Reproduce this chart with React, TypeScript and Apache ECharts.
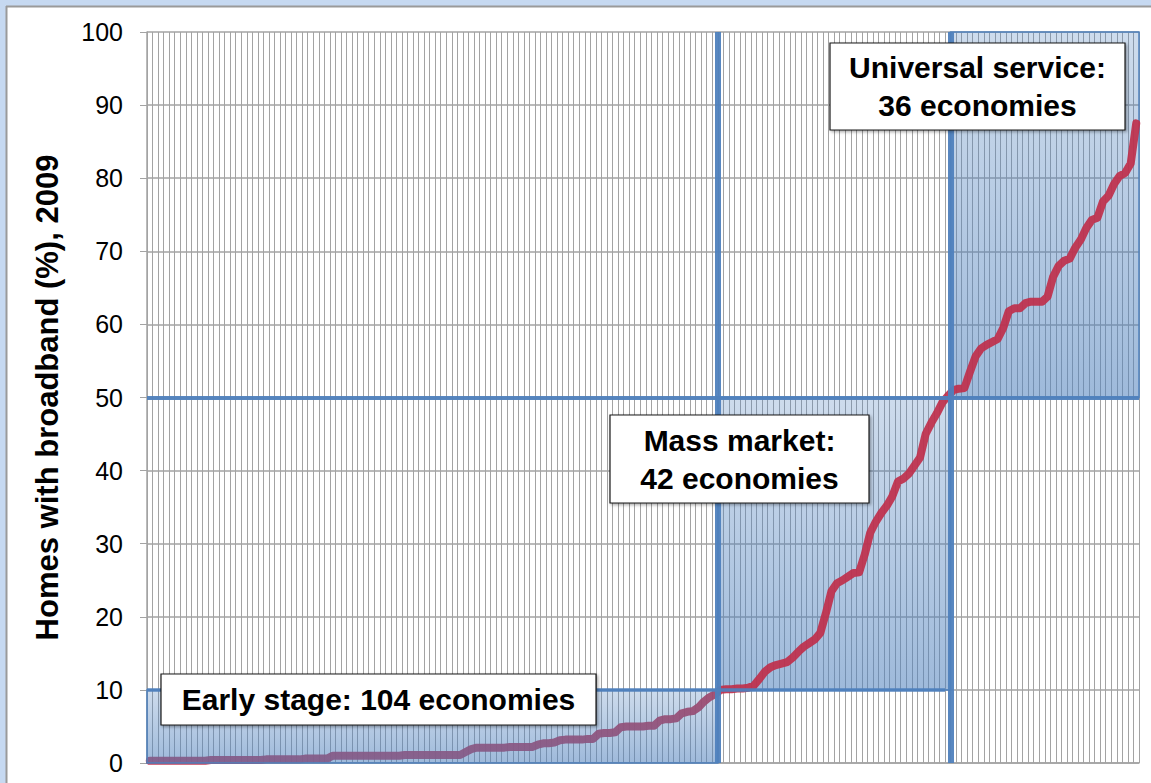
import React, { useEffect, useRef } from "react";
import * as echarts from "echarts";

// Homes with broadband (%), 2009 — economies ranked from lowest to highest
const earlyStage = [
  0.3, 0.3, 0.3, 0.3, 0.3, 0.3, 0.3, 0.3, 0.3, 0.3, 0.3,
  0.4, 0.4, 0.4, 0.4, 0.4, 0.4, 0.4, 0.4, 0.4, 0.4,
  0.5, 0.5, 0.5, 0.5, 0.5, 0.5, 0.5,
  0.6, 0.6, 0.6, 0.6, 0.6,
  1.0, 1.0, 1.0, 1.0, 1.0, 1.0, 1.0, 1.0, 1.0, 1.0, 1.0, 1.0, 1.0,
  1.1, 1.1, 1.1, 1.1, 1.1, 1.1, 1.1, 1.1, 1.1, 1.1, 1.1,
  1.5, 1.9, 2.1,
  2.1, 2.1, 2.1, 2.1, 2.1, 2.2, 2.2, 2.2, 2.2, 2.2,
  2.5, 2.7, 2.7, 2.8,
  3.1, 3.2, 3.2, 3.2, 3.2, 3.3, 3.3,
  4.0, 4.1, 4.1, 4.2,
  4.9, 5.0, 5.0, 5.0, 5.0, 5.1, 5.1,
  5.8, 6.0, 6.0, 6.1,
  6.8, 7.0, 7.1,
  7.6, 8.4, 9.0, 9.4,
];
const massMarket = [
  10.0, 10.1, 10.1, 10.2, 10.2, 10.3, 10.6, 11.5, 12.5, 13.1,
  13.4, 13.6, 13.8, 14.4, 15.2, 15.9, 16.4, 16.9, 17.8, 20.5,
  23.5, 24.6, 25.0, 25.5, 26.0, 26.1, 28.5, 31.5, 33.0, 34.2,
  35.2, 36.5, 38.5, 38.9, 39.6, 40.7, 41.8, 45.0, 46.5, 47.8,
  49.3, 50.2,
];
const universalService = [
  51.0, 51.2, 51.3, 53.5, 55.6, 56.7, 57.2, 57.6, 58.0, 59.5,
  61.8, 62.2, 62.2, 62.9, 63.1, 63.1, 63.1, 63.8, 66.5, 68.0,
  68.7, 69.0, 70.5, 71.6, 73.2, 74.3, 74.6, 76.8, 77.6, 79.2,
  80.3, 80.7, 82.0, 87.5,
];
const stageThresholds = [0, 10, 50, 100];
const stageLabels = [
  "Early stage: 104 economies",
  "Mass market:\n42 economies",
  "Universal service:\n36 economies",
];
const yAxisTitle = "Homes with broadband (%), 2009";

const BLUE = "#4f81bd";
const GRID_GRAY = "#a3a3a3";
const FONT = '"Liberation Sans", Arial, Helvetica, sans-serif';

export default function App() {
  const ref = useRef<HTMLDivElement>(null);

  useEffect(() => {
    if (!ref.current) return;
    const chart = echarts.init(ref.current, undefined, { renderer: "svg" });

    const values = [...earlyStage, ...massMarket, ...universalService];
    const total = values.length;
    const lineData = values.map((v, i) => [i + 0.5, v]);
    const b1 = earlyStage.length;
    const b2 = earlyStage.length + massMarket.length;

    const fill = {
      type: "linear",
      x: 0,
      y: 0,
      x2: 0,
      y2: 1,
      colorStops: [
        { offset: 0, color: "rgba(79,129,189,0.28)" },
        { offset: 1, color: "rgba(79,129,189,0.55)" },
      ],
    };
    const areaStyle = { color: fill, borderColor: BLUE, borderWidth: 1.5 };

    const box = (
      x: number,
      y: number,
      w: number,
      h: number,
      text: string
    ) => [
      {
        type: "rect",
        z: 100,
        zlevel: 0,
        shape: { x, y, width: w, height: h },
        style: {
          fill: "#ffffff",
          stroke: "#1a1a1a",
          lineWidth: 1.2,
          shadowBlur: 3,
          shadowOffsetX: 1.5,
          shadowOffsetY: 1.5,
          shadowColor: "rgba(0,0,0,0.35)",
        },
      },
      {
        type: "text",
        z: 101,
        zlevel: 0,
        x: x + w / 2,
        y: y + h / 2,
        style: {
          text,
          align: "center",
          verticalAlign: "middle",
          font: `bold 30px ${FONT}`,
          fill: "#000",
          lineHeight: 38,
        },
      },
    ];

    const option: any = {
      animation: false,
      backgroundColor: "#ffffff",
      grid: { left: 147, right: 12, top: 32, bottom: 20, containLabel: false },
      xAxis: {
        type: "value",
        min: 0,
        max: total,
        interval: 1,
        axisLabel: { show: false },
        axisTick: { show: false },
        axisLine: { show: true, lineStyle: { color: GRID_GRAY, width: 1.5 } },
        splitLine: { show: true, lineStyle: { color: GRID_GRAY, width: 1 } },
      },
      yAxis: {
        type: "value",
        min: 0,
        max: 100,
        interval: 10,
        name: yAxisTitle,
        nameLocation: "middle",
        nameGap: 84,
        nameTextStyle: {
          fontSize: 31,
          fontWeight: "bold",
          color: "#000",
          fontFamily: FONT,
        },
        axisLabel: {
          fontSize: 25,
          color: "#000",
          fontFamily: FONT,
          margin: 24,
        },
        axisTick: { show: true, length: 7, lineStyle: { color: GRID_GRAY } },
        axisLine: { show: true, lineStyle: { color: GRID_GRAY, width: 1.5 } },
        splitLine: { show: true, lineStyle: { color: GRID_GRAY, width: 1.5 } },
      },
      series: [
        {
          name: "Homes with broadband",
          type: "line",
          data: lineData,
          z: 2,
          showSymbol: false,
          silent: true,
          lineStyle: {
            color: "#bf2f4b",
            width: 8,
            opacity: 0.92,
            cap: "round",
            join: "round",
          },
          markArea: {
            silent: true,
            z: 1,
            itemStyle: areaStyle,
            data: [
              [
                { coord: [b1, stageThresholds[1]] },
                { coord: [b2, stageThresholds[2]] },
              ],
              [
                { coord: [b2, stageThresholds[2]] },
                { coord: [total, stageThresholds[3]] },
              ],
            ],
          },
          markLine: {
            silent: true,
            z: 5,
            symbol: ["none", "none"],
            label: { show: false },
            data: [
              { xAxis: b1, lineStyle: { color: BLUE, width: 6, type: "solid", opacity: 0.95 } },
              { xAxis: b2, lineStyle: { color: BLUE, width: 6, type: "solid", opacity: 0.95 } },
              { yAxis: stageThresholds[2], lineStyle: { color: BLUE, width: 4, type: "solid", opacity: 0.95 } },
              [
                { coord: [0, stageThresholds[1]], lineStyle: { color: BLUE, width: 3.5, type: "solid", opacity: 0.95 } },
                { coord: [b2 - 1, stageThresholds[1]] },
              ],
            ],
          },
        },
        {
          name: "early-stage",
          type: "line",
          data: [],
          z: 3,
          silent: true,
          markArea: {
            silent: true,
            z: 3,
            itemStyle: areaStyle,
            data: [
              [
                { coord: [0, stageThresholds[0]] },
                { coord: [b1, stageThresholds[1]] },
              ],
            ],
          },
        },
      ],
      graphic: [
        { type: "rect", shape: { x: 0, y: 0, width: 1151, height: 6 }, style: { fill: "#c6d9f1" }, z: 50 },
        { type: "rect", shape: { x: 0, y: 0, width: 6, height: 783 }, style: { fill: "#c6d9f1" }, z: 50 },
        { type: "line", shape: { x1: 6, y1: 6.5, x2: 1151, y2: 6.5 }, style: { stroke: "#9a9a9a", lineWidth: 2 }, z: 50 },
        { type: "line", shape: { x1: 6.5, y1: 6, x2: 6.5, y2: 783 }, style: { stroke: "#9a9a9a", lineWidth: 2 }, z: 50 },
        ...box(161, 674, 435, 51, stageLabels[0]),
        ...box(610, 415, 259, 88, stageLabels[1]),
        ...box(830, 43, 295, 87, stageLabels[2]),
      ],
    };

    chart.setOption(option);
    return () => chart.dispose();
  }, []);

  return (
    <div
      ref={ref}
      style={{ position: "absolute", left: 0, top: 0, width: 1151, height: 783, background: "#fff" }}
    />
  );
}
